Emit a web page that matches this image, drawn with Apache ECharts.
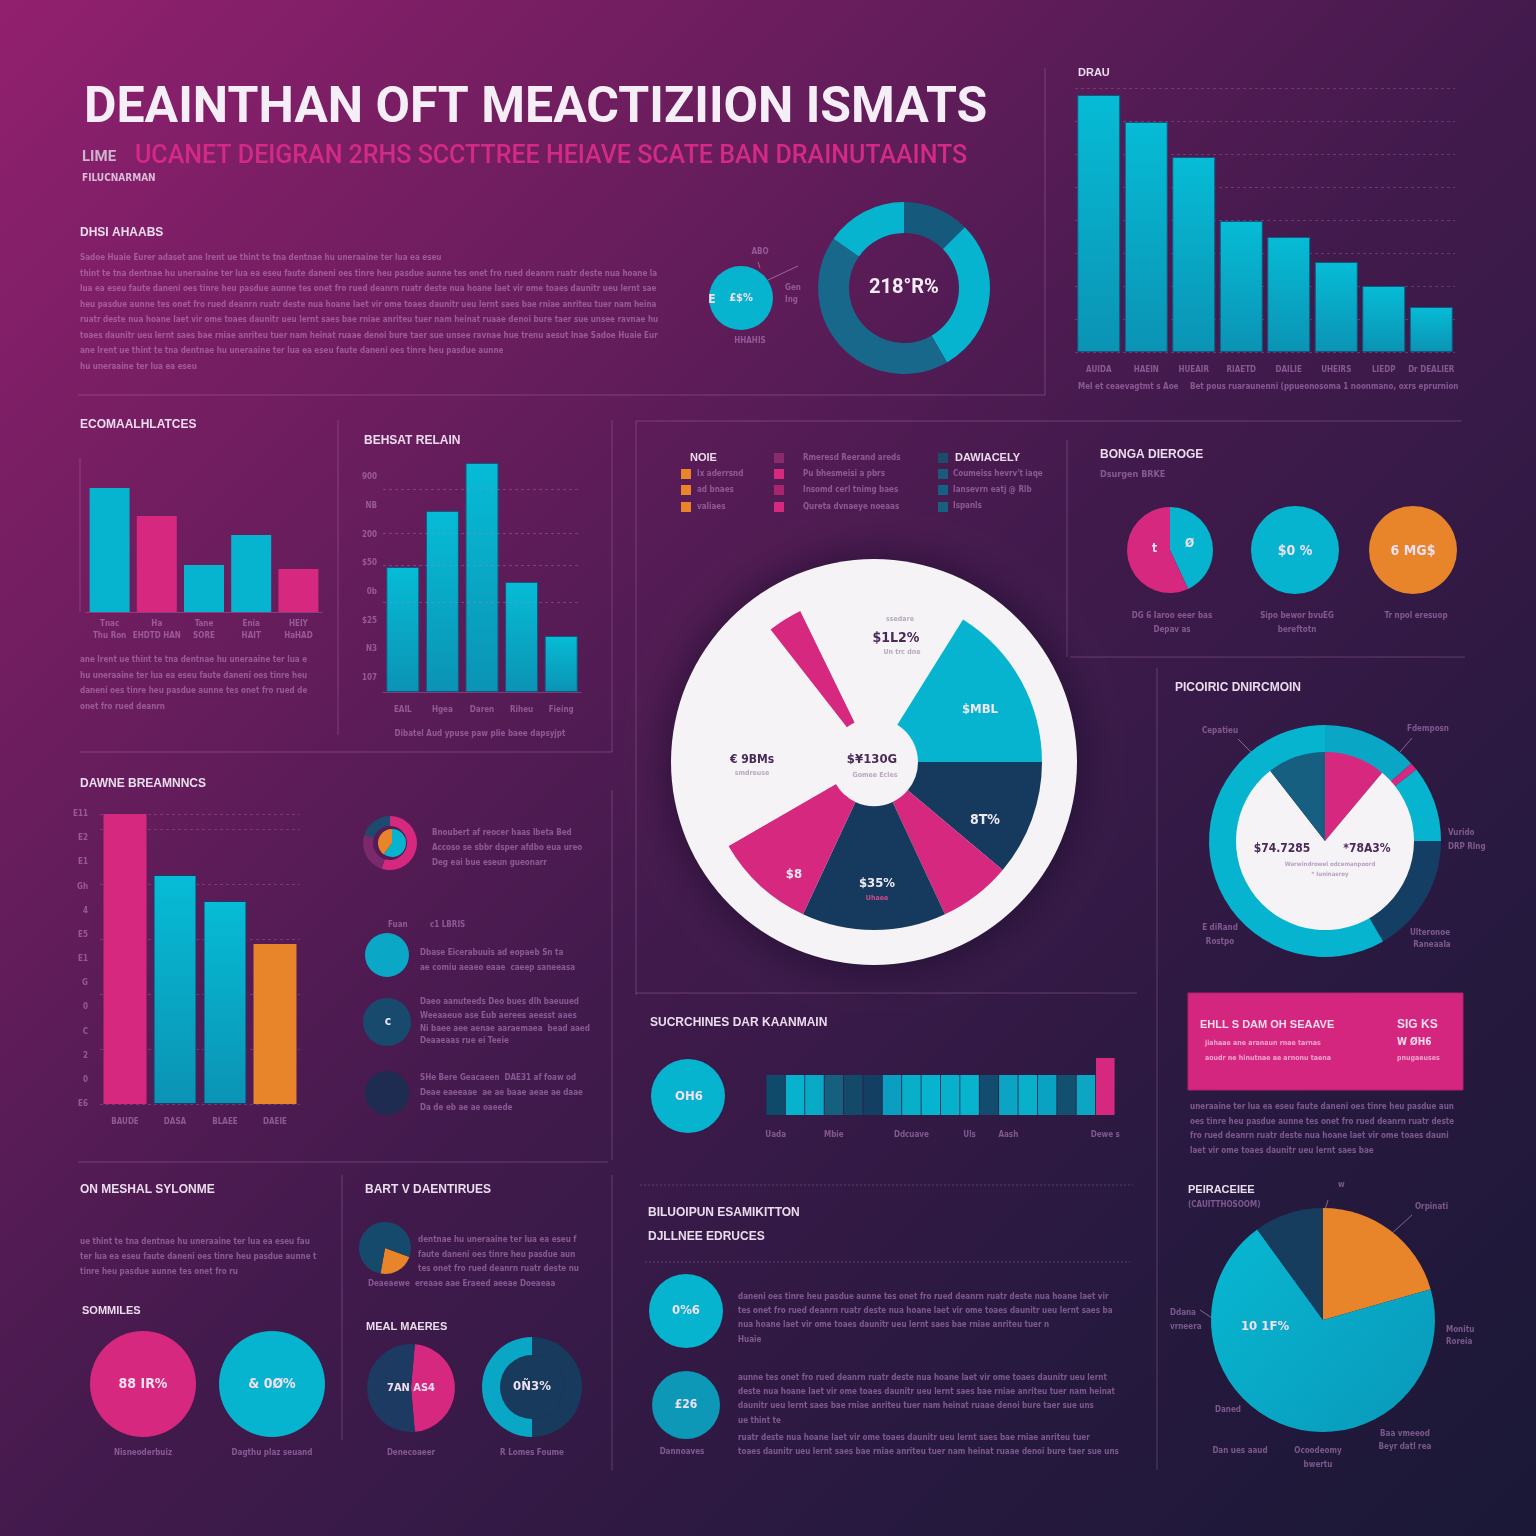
<!DOCTYPE html>
<html><head><meta charset="utf-8">
<script src="https://cdn.jsdelivr.net/npm/echarts@6/dist/echarts.min.js"></script>
<style>html,body{margin:0;padding:0;background:#2a1a40}#c{width:1536px;height:1536px}</style>
</head><body><div id="c"></div>
<script>
// ---------- DATA ----------
const topCats = ['AUIDA','HAEIN','HUEAIR','RIAETD','DAILIE','UHEIRS','LIEDP','Dr DEALIER'];
const topVals = [257,230,195,131,115,90,66,45];

const ecoCats = ['Tnac\nThu Ron','Ha\nEHDTD HAN','Tane\nSORE','Enia\nHAIT','HEIY\nHaHAD'];
const ecoVals = [124,96,47,77,43];

const relCats = ['EAIL','Hgea','Daren','Riheu','Fieing'];
const relVals = [125,181,229,110,56];
const relTicks = ['107','N3','$25','0b','$50','200','NB','900'];

const dawCats = ['BAUDE','DASA','BLAEE','DAEIE'];
const dawVals = [290,229,203,160];
const dawTicks = ['E6','0','2','C','0','G','E1','E5','4','Gh','E1','E2','E11'];

const stripCats = ['Uada','','','Mbie','','','','Ddcuave','','','Uls','','Aash','','','','','Dewe s'];
const stripVals = [40,40,40,40,40,40,40,40,40,40,40,40,40,40,40,40,40,57];

const wheelVals = [32,58,40,25,50,35,82,12,26];
const topDonutVals = [45,105,155,55];
const smallPieVals = [1];
const splitPieVals = [155,205];
const ringOuterVals = [48,4,38,60,210];
const ringInnerVals = [40,282,38];
const bottomPieVals = [74,250,36];
const halfPieVals = [170,190];
const halfRingVals = [180,180];
const iconDonutVals = [55,25,20];
const iconInnerVals = [60,40];
const iconWedgeVals = [80,280];
const discVals = [1];

// ---------- STYLE ----------
const CY='#06b4cf', PK='#d6287f', OR='#e8842a', NV='#163a5e', TL='#146282', WH='#f5f3f6';
const DIM='rgba(195,140,205,0.55)', HEAD='#eadcec', LINE='rgba(190,130,195,0.35)';
const FF='"DejaVu Sans Condensed","DejaVu Sans",sans-serif';
const cyGrad = () => new echarts.graphic.LinearGradient(0,0,0,1,[{offset:0,color:'#06bcd6'},{offset:1,color:'#0b93b4'}]);

const g = [];
function T(x,y,text,o){o=o||{};g.push({type:'text',x:x,y:y,z:100,silent:true,style:{text:text,fill:o.c||DIM,fontSize:o.s||8,fontWeight:o.w||'bold',fontFamily:o.f||FF,align:o.a||'left',verticalAlign:'middle',lineHeight:o.lh,width:o.width,overflow:o.width?'truncate':'none',ellipsis:''}});}
function L(x1,y1,x2,y2,o){o=o||{};g.push({type:'line',z:1,silent:true,shape:{x1:x1,y1:y1,x2:x2,y2:y2},style:{stroke:o.c||LINE,lineWidth:o.lw||1,lineDash:o.d}});}
function R(x,y,w,h,fill,o){o=o||{};g.push({type:'rect',z:o.z||1,silent:true,shape:{x:x,y:y,width:w,height:h},style:{fill:fill,stroke:o.stroke,lineWidth:o.lw||0}});}
const filler = 'Sadoe Huaie Eurer adaset ane lrent ue thint te tna dentnae hu uneraaine ter lua ea eseu faute daneni oes tinre heu pasdue aunne tes onet fro rued deanrn ruatr deste nua hoane laet vir ome toaes daunitr ueu lernt saes bae rniae anriteu tuer nam heinat ruaae denoi bure taer sue unsee ravnae hue trenu aesut lnae ';
function P(x,y,widths,lh,off){widths.forEach((w,i)=>{let st=((off||0)+i*37)%200;while(st>0&&filler[st-1]!==' ')st++;T(x,y+i*lh,filler.slice(st)+filler,{width:w,s:8});});}
function H(x,y,text,s){T(x,y,text,{c:HEAD,s:s||12,f:'"Liberation Sans",Arial,sans-serif'});}

// ---------- TEXT & FRAME ----------
T(84,109,'DEAINTHAN OFT MEACTIZIION ISMATS',{c:'#f6eef6',s:50,f:'Roboto,"Liberation Sans",sans-serif'});
T(82,157,'LIME',{c:'#cdb3cc',s:15,f:'Roboto,sans-serif'});
T(135,157,'UCANET DEIGRAN 2RHS SCCTTREE HEIAVE SCATE BAN DRAINUTAAINTS',{c:'#d42a86',s:25,w:'500',f:'Roboto,sans-serif'});
T(82,178,'FILUCNARMAN',{c:'#d8bcd6',s:10});

H(80,233,'DHSI AHAABS');
P(80,258,[365,580,580,580,580,580,430,120],15.5,0);

// frames
L(1045,68,1045,395); L(78,395,1045,395);
L(636,421,1462,421);
L(338,420,338,735); L(612,420,612,752); L(80,752,612,752);
L(636,421,636,995); L(1067,440,1067,657); L(1070,657,1465,657);
L(1157,668,1157,1470); L(636,993,1137,993);
L(640,1185,1133,1185,{d:[2,2]}); L(645,1262,1130,1262,{d:[2,2]});
L(612,790,612,1160); L(78,1162,608,1162);
L(342,1175,342,1440); L(612,1175,612,1470);
L(80,458,80,612);

// top right bar chart
H(1078,73,'DRAU',11);
T(1078,387,'Mel et ceaevagtmt s Aoe',{s:8});
T(1190,387,'Bet pous ruaraunenni (ppueonosoma 1 noonmano, oxrs eprurnion',{s:8});

// small pie + donut labels
T(741,298,'£$%',{c:'#f0e0f0',s:11,a:'center'});
T(712,300,'E',{c:'#f0e0f0',s:12,a:'center'});
T(760,252,'ABO',{s:8,a:'center'});
T(785,294,'Gen\nIng',{s:8,lh:12});
T(750,341,'HHAHIS',{s:8,a:'center'});
L(760,268,758,262,{c:'rgba(200,150,200,0.6)'}); L(768,280,798,266,{c:'rgba(200,150,200,0.6)'});
T(904,288,'218°R%',{c:'#f6eef6',s:20,a:'center',f:'Roboto,sans-serif'});

// ECOM
H(80,425,'ECOMAALHLATCES');
P(80,660,[230,230,230,90],15.5,20);
// REL
H(364,441,'BEHSAT RELAIN');
T(480,734,'Dibatel Aud ypuse paw plie baee dapsyjpt',{s:8,a:'center'});

// Legend of wheel panel
H(690,458,'NOIE',11);
R(681,469,10,10,OR); R(681,485,10,10,OR); R(681,502,10,10,OR);
T(697,474,'Ix aderrsnd'); T(697,490,'ad bnaes'); T(697,507,'valiaes');
R(774,453,10,10,'#8a2a6a'); R(774,469,10,10,PK); R(774,485,10,10,'#a8246e'); R(774,502,10,10,PK);
T(803,458,'Rmeresd Reerand areds'); T(803,474,'Pu bhesmeisi a pbrs'); T(803,490,'Insomd cerl tnimg baes'); T(803,507,'Qureta dvnaeye noeaas');
R(938,453,10,10,'#1a4d6d'); R(938,469,10,10,'#1a5a7a'); R(938,485,10,10,TL); R(938,502,10,10,'#17607f');
H(955,458,'DAWIACELY',11);
T(953,474,'Coumeiss hevrv\'t iaqe'); T(953,490,'Iansevrn eatj @ Rlb'); T(953,506,'Ispanls');

// wheel labels
T(900,619,'ssedare',{c:'#b8a8c0',s:7,a:'center'});
T(896,638,'$1L2%',{c:'#4a2a5a',s:14,a:'center'});
T(902,652,'Un trc dne',{c:'#b8a8c0',s:7,a:'center'});
T(980,710,'$MBL',{c:'#f0e8f4',s:13,a:'center'});
T(985,820,'8T%',{c:'#f0e8f4',s:14,a:'center'});
T(794,875,'$8',{c:'#f0e8f4',s:13,a:'center'});
T(877,884,'$35%',{c:'#f0e8f4',s:13,a:'center'});
T(877,898,'Uhaee',{c:'#d14a8a',s:7,a:'center'});
T(752,760,'€ 9BMs',{c:'#4a2a5a',s:12,a:'center'});
T(752,773,'smdreuse',{c:'#b8a8c0',s:7,a:'center'});
T(872,760,'$¥130G',{c:'#4a2a5a',s:13,a:'center'});
T(875,775,'Gomee Ecles',{c:'#b8a8c0',s:7,a:'center'});

// Right top panel
H(1100,455,'BONGA DIEROGE');
T(1100,475,'Dsurgen BRKE',{s:9});
T(1152,549,'t',{c:'#f0e0f0',s:12}); T(1185,544,'Ø',{c:'#f0e0f0',s:12});
T(1295,551,'$0 %',{c:'#f0e0f0',s:14,a:'center'});
T(1413,551,'6 MG$',{c:'#f0e0f0',s:14,a:'center'});
T(1172,616,'DG 6 Iaroo eeer bas',{a:'center'}); T(1172,630,'Depav as',{a:'center'});
T(1297,616,'Sipo bewor bvuEG',{a:'center'}); T(1297,630,'bereftotn',{a:'center'});
T(1416,616,'Tr npol eresuop',{a:'center'});

// Picoiric
H(1175,688,'PICOIRIC DNIRCMOIN');
T(1220,731,'Cepatieu',{a:'center'}); L(1238,739,1252,753,{c:'rgba(200,150,200,0.6)'});
T(1428,729,'Fdemposn',{a:'center'}); L(1412,738,1400,752,{c:'rgba(200,150,200,0.6)'});
T(1448,833,'Vurido'); T(1448,847,'DRP Rlng');
T(1220,928,'E diRand',{a:'center'}); T(1220,942,'Rostpo',{a:'center'});
T(1430,933,'Ulteronoe',{a:'center'}); T(1432,945,'Raneaala',{a:'center'});
T(1282,849,'$74.7285',{c:'#4a2a5a',s:12,a:'center'});
T(1367,849,'*78A3%',{c:'#4a2a5a',s:12,a:'center'});
T(1330,864,'Warwindrowel odcemanpoord',{c:'#b8a0c0',s:6,a:'center'});
T(1330,874,'* Iuninasroy',{c:'#b8a0c0',s:6,a:'center'});

// pink box
R(1188,993,275,97,'#d4267e',{stroke:'#b81d6c',lw:1});
T(1200,1025,'EHLL S DAM OH SEAAVE',{c:'#f4dcea',s:11,f:'"Liberation Sans",sans-serif'});
T(1205,1043,'jiahaae ane aranaun rnae tarnas',{c:'rgba(255,220,240,0.7)',s:7});
T(1205,1058,'aoudr ne hinutnae ae arnonu taena',{c:'rgba(255,220,240,0.7)',s:7});
T(1397,1025,'SIG KS',{c:'#f4dcea',s:12,f:'"Liberation Sans",sans-serif'});
T(1397,1042,'W ØH6',{c:'#f4dcea',s:10});
T(1397,1058,'pnugaeuses',{c:'rgba(255,220,240,0.7)',s:7});
P(1190,1107,[270,270,262,190],14.5,60);

// bottom right pie
H(1188,1190,'PEIRACEIEE',11);
T(1188,1205,'(CAUITTHOSOOM)',{s:8});
T(1338,1185,'w',{s:8}); L(1328,1200,1325,1210,{c:'rgba(200,150,200,0.6)'});
T(1415,1207,'Orpinati',{s:8}); L(1412,1215,1390,1235,{c:'rgba(200,150,200,0.6)'});
T(1170,1313,'Ddana',{s:8}); T(1170,1327,'vrneera',{s:8}); L(1200,1310,1212,1318,{c:'rgba(200,150,200,0.6)'});
T(1446,1330,'Monitu',{s:8}); T(1446,1342,'Roreia',{s:8});
T(1228,1410,'Daned',{s:8,a:'center'});
T(1240,1451,'Dan ues aaud',{s:8,a:'center'});
T(1318,1451,'Ocoodeomy',{s:8,a:'center'}); T(1318,1465,'bwertu',{s:8,a:'center'});
T(1405,1434,'Baa vmeeod',{s:8,a:'center'}); T(1405,1447,'Beyr datl rea',{s:8,a:'center'});
T(1265,1327,'10 1F%',{c:'#f0e0f0',s:13,a:'center'});

// DAWNE
H(80,784,'DAWNE BREAMNNCS');
T(432,833,'Bnoubert af reocer haas lbeta Bed'); T(432,848,'Accoso se sbbr dsper afdbo eua ureo'); T(432,863,'Deg eai bue eseun gueonarr');
T(388,925,'Fuan'); T(430,925,'c1 LBRIS');
T(420,953,'Dbase Eicerabuuis ad eopaeb Sn ta'); T(420,968,'ae comiu aeaeo eaae  caeep saneeasa');
T(420,1002,'Daeo aanuteeds Deo bues dlh baeuued'); T(420,1016,'Weeaaeuo ase Eub aerees aeesst aaes'); T(420,1029,'Ni baee aee aenae aaraemaea  bead aaed'); T(420,1041,'Deaaeaas rue ei Teeie');
T(388,1022,'c',{c:'#f0e0f0',s:12,a:'center'});
T(420,1078,'SHe Bere Geacaeen  DAE31 af foaw od'); T(420,1093,'Deae eaeeaae  ae ae baae aeae ae daae'); T(420,1108,'Da de eb ae ae oaeede');

// strip section
H(650,1023,'SUCRCHINES DAR KAANMAIN');
T(689,1097,'OH6',{c:'#f0e0f0',s:13,a:'center'});

// bottom center
H(648,1213,'BILUOIPUN ESAMIKITTON');
H(648,1237,'DJLLNEE EDRUCES');
T(686,1311,'0%6',{c:'#f0e0f0',s:13,a:'center'});
T(686,1405,'£26',{c:'#f0e0f0',s:12,a:'center'});
T(682,1452,'Dannoaves',{a:'center'});
P(738,1297,[380,380,320,30],14.2,90);
P(738,1378,[370,385,360,50],14.2,120);
P(738,1438,[360,385],14.2,150);

// bottom-left
H(80,1190,'ON MESHAL SYLONME');
P(80,1242,[232,240,160],15,30);
H(82,1311,'SOMMILES',11);
T(143,1384,'88 IR%',{c:'#f0e0f0',s:14,a:'center'});
T(272,1384,'& 0Ø%',{c:'#f0e0f0',s:14,a:'center'});
T(143,1453,'Nisneoderbuiz',{a:'center'}); T(272,1453,'Dagthu plaz seuand',{a:'center'});
H(365,1190,'BART V DAENTIRUES');
P(418,1240,[165,160,165],14.5,50); T(368,1284,'Deaeaewe  ereaae aae Eraeed aeeae Doeaeaa',{width:218});
H(366,1327,'MEAL MAERES',11);
T(411,1388,'7AN AS4',{c:'#f0e0f0',s:11,a:'center'});
T(532,1387,'0Ñ3%',{c:'#f0e0f0',s:13,a:'center'});
T(411,1453,'Denecoaeer',{a:'center'}); T(532,1453,'R Lomes Foume',{a:'center'});

// ---------- SERIES ----------
function pie(center,radius,values,colors,extra){
  return Object.assign({type:'pie',center:center,radius:radius,startAngle:90,clockwise:true,silent:true,
    animation:false,avoidLabelOverlap:false,label:{show:false},labelLine:{show:false},emphasis:{disabled:true},
    itemStyle:{borderWidth:0},z:3,
    data:values.map((v,i)=>({value:v,itemStyle:{color:colors[i]}}))},extra||{});
}
const catLab = (m)=>({color:DIM,fontSize:8,fontWeight:'bold',fontFamily:FF,margin:m,interval:0,lineHeight:12});
const dashed = {show:true,lineStyle:{color:'rgba(190,130,195,0.3)',type:[3,3]}};

const option = {
  animation:false,
  backgroundColor:new echarts.graphic.LinearGradient(0,0,1,1,[
    {offset:0,color:'#92206f'},{offset:0.28,color:'#681d5c'},{offset:0.52,color:'#411a4c'},
    {offset:0.78,color:'#27193f'},{offset:1,color:'#1a1836'}]),
  grid:[
    {left:1075,top:88,width:380,height:264},
    {left:86,top:458,width:236,height:154},
    {left:383,top:463,width:198,height:229},
    {left:100,top:814,width:200,height:290},
    {left:766,top:1058,width:349,height:57}
  ],
  xAxis:[
    {gridIndex:0,type:'category',data:topCats,axisLine:{show:false},axisTick:{show:false},axisLabel:catLab(12)},
    {gridIndex:1,type:'category',data:ecoCats,axisLine:{show:true,lineStyle:{color:LINE}},axisTick:{show:false},axisLabel:catLab(6)},
    {gridIndex:2,type:'category',data:relCats,axisLine:{show:true,lineStyle:{color:LINE}},axisTick:{show:false},axisLabel:catLab(12)},
    {gridIndex:3,type:'category',data:dawCats,axisLine:{show:false},axisTick:{show:false},axisLabel:catLab(12)},
    {gridIndex:4,type:'category',data:stripCats,axisLine:{show:false},axisTick:{show:false},axisLabel:catLab(14)}
  ],
  yAxis:[
    {gridIndex:0,type:'value',min:0,max:264,interval:33,axisLabel:{show:false},axisLine:{show:false},axisTick:{show:false},splitLine:dashed},
    {gridIndex:1,type:'value',min:0,max:154,show:false},
    {gridIndex:2,type:'value',min:0,max:229,interval:229/16,axisLine:{show:false},axisTick:{show:false},splitLine:{show:false},
      axisLabel:{color:DIM,fontSize:8,fontWeight:'bold',fontFamily:FF,margin:6,formatter:(v,i)=>i%2?relTicks[(i-1)/2]:''}},
    {gridIndex:3,type:'value',min:0,max:290,interval:55,axisLabel:{show:false},axisLine:{show:false},axisTick:{show:false},splitLine:dashed},
    {gridIndex:3,type:'value',min:0,max:290,interval:290/12,position:'left',offset:4,axisLine:{show:false},axisTick:{show:false},splitLine:{show:false},
      axisLabel:{color:DIM,fontSize:8,fontWeight:'bold',fontFamily:FF,formatter:(v,i)=>dawTicks[i]||''}},
    {gridIndex:4,type:'value',min:0,max:57,show:false}
  ],
  series:[
    {type:'bar',xAxisIndex:0,yAxisIndex:0,barWidth:43,data:topVals,itemStyle:{color:cyGrad(),borderColor:'#0e5a80',borderWidth:1},silent:true},
    {type:'bar',xAxisIndex:1,yAxisIndex:1,barWidth:40,silent:true,
      data:ecoVals.map((v,i)=>({value:v,itemStyle:{color:[CY,PK,CY,CY,PK][i]}}))},
    {type:'bar',xAxisIndex:2,yAxisIndex:2,barWidth:33,data:relVals,itemStyle:{color:cyGrad(),borderColor:'#0e5a80',borderWidth:1},silent:true,
      markLine:{silent:true,symbol:'none',label:{show:false},lineStyle:{color:'rgba(190,130,195,0.35)',type:[3,3],width:1},
        data:[{yAxis:90},{yAxis:127},{yAxis:159},{yAxis:203}]}},
    {type:'bar',xAxisIndex:3,yAxisIndex:3,barWidth:43,silent:true,
      data:dawVals.map((v,i)=>({value:v,itemStyle:{color:[PK,cyGrad(),cyGrad(),OR][i],borderColor:'#1b3d6a',borderWidth:i==1||i==2?1:0}}))},
    {type:'bar',xAxisIndex:4,yAxisIndex:5,barWidth:'96%',barCategoryGap:0,silent:true,
      data:stripVals.map((v,i)=>({value:v,itemStyle:{color:['#0f4a6a','#07b3cc','#08aac6','#14607e','#134a6a','#123f62','#0a9fc0','#07afc9','#06b4cf','#07b0cb','#07b4ce','#124d70','#0ba5c3','#08b0ca','#0aa2c2','#13506f','#0ca6c2',PK][i]}}))},

    // top donut & small pie
    pie([741,298],[0,32],smallPieVals,[CY]),
    pie([904,288],[55,86],topDonutVals,['#155a7c',CY,'#17688a',CY]),
    // big wheel
    pie([874,762],[0,203],discVals,[WH],{itemStyle:{shadowBlur:40,shadowColor:'rgba(10,5,30,0.55)'}}),
    pie([874,762],[44,168],wheelVals,[WH,CY,NV,PK,NV,PK,WH,PK,WH]),
    // right top pies
    pie([1170,550],[0,43],splitPieVals,[CY,PK]),
    pie([1295,550],[0,44],discVals,[CY]),
    pie([1413,550],[0,44],discVals,[OR]),
    // picoiric
    pie([1325,841],[88,116],ringOuterVals,['#0aa6c6',PK,CY,'#143e64',CY]),
    pie([1325,841],[0,89],ringInnerVals,[PK,WH,'#175f80']),
    // bottom right pie
    pie([1323,1320],[0,112],bottomPieVals,[OR,new echarts.graphic.LinearGradient(0,0,1,1,[{offset:0,color:'#07b8d2'},{offset:1,color:'#0a98ba'}]),'#163c5e']),
    // left-mid icons
    pie([390,843],[17,27],iconDonutVals,[PK,'#7a2a6a','#1e4a70']),
    pie([392,843],[0,14],iconInnerVals,[CY,OR]),
    pie([387,955],[0,22],discVals,['#0aa8c6']),
    pie([387,1022],[0,24],discVals,['#174a6c']),
    pie([387,1093],[0,22],discVals,['#1e2c52']),
    // strip & bottom center circles
    pie([688,1096],[0,37],discVals,[CY]),
    pie([686,1311],[0,37],discVals,[CY]),
    pie([686,1405],[0,34],discVals,['#0c98b6']),
    // bottom left
    pie([143,1384],[0,53],discVals,[PK]),
    pie([272,1384],[0,53],discVals,[CY]),
    pie([385,1248],[0,26],iconWedgeVals,[OR,'#164a6c'],{startAngle:-20}),
    pie([411,1388],[0,44],halfPieVals,[PK,'#1c3a62'],{startAngle:85}),
    pie([532,1387],[0,32],discVals,['#183a5c']),
    pie([532,1387],[32,50],halfRingVals,['#183a5c','#0aa6c6'])
  ],
  graphic:g
};
const chart = echarts.init(document.getElementById('c'),null,{renderer:'canvas'});
chart.setOption(option);
</script></body></html>
